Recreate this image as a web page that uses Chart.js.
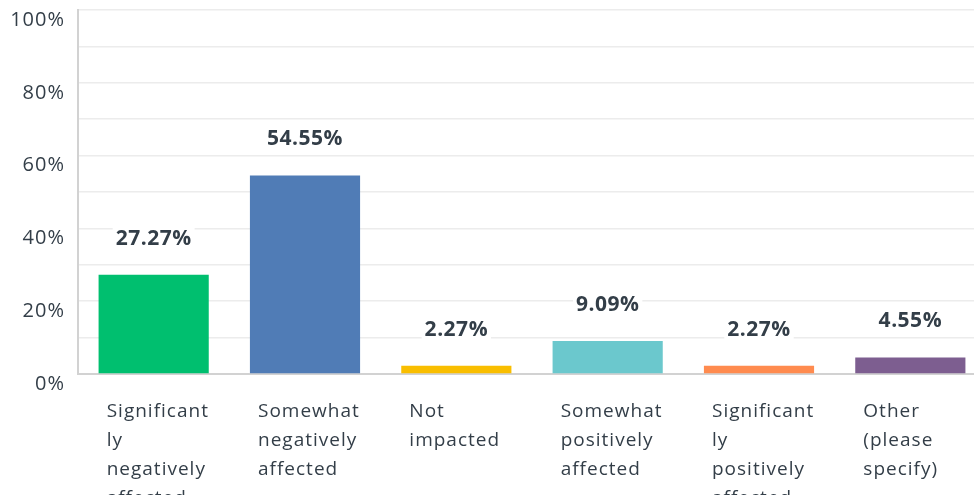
<!DOCTYPE html>
<html>
<head>
<meta charset="utf-8">
<script src="https://cdn.jsdelivr.net/npm/chart.js@4/dist/chart.umd.min.js"></script>
<style>
  html, body { margin: 0; padding: 0; background: #fff; overflow: hidden; }
  #chart { position: absolute; left: 0; top: 0; }
</style>
</head>
<body>
<canvas id="chart" width="986" height="495"></canvas>
<script>
const categories = [
  ['Significant', 'ly', 'negatively', 'affected'],
  ['Somewhat', 'negatively', 'affected'],
  ['Not', 'impacted'],
  ['Somewhat', 'positively', 'affected'],
  ['Significant', 'ly', 'positively', 'affected'],
  ['Other', '(please', 'specify)']
];
const percents = [27.27, 54.55, 2.27, 9.09, 2.27, 4.55];
const barColors = ['#00BF6F', '#507CB6', '#F9BE00', '#6BC8CD', '#FF8B4F', '#7D5E90'];
const yTicks = [0, 20, 40, 60, 80, 100];

const TEXT = '#333e48';
const FONT = "'Open Sans', sans-serif";

// the original font is wide and loosely spaced
const spacing = {
  id: 'spacing',
  beforeDraw(chart) { chart.ctx.letterSpacing = '1px'; }
};

// value labels above each bar, on a white box like the original
const valueLabels = {
  id: 'valueLabels',
  afterDatasetsDraw(chart) {
    const ctx = chart.ctx;
    const meta = chart.getDatasetMeta(0);
    ctx.save();
    ctx.font = 'bold 21px ' + FONT;
    ctx.letterSpacing = '0.5px';
    ctx.textAlign = 'center';
    ctx.textBaseline = 'middle';
    meta.data.forEach((bar, i) => {
      const txt = percents[i].toFixed(2) + '%';
      const y = bar.y - 36;
      const w = ctx.measureText(txt).width;
      ctx.fillStyle = '#fff';
      ctx.fillRect(bar.x - w / 2 - 3, y - 12, w + 6, 24);
      ctx.fillStyle = TEXT;
      ctx.fillText(txt, bar.x, y);
    });
    ctx.restore();
  }
};

new Chart(document.getElementById('chart'), {
  type: 'bar',
  data: {
    labels: categories,
    datasets: [{
      data: percents,
      backgroundColor: barColors,
      categoryPercentage: 1,
      barPercentage: 0.728
    }]
  },
  options: {
    animation: false,
    responsive: false,
    layout: { padding: { top: 10, left: 0, right: 0, bottom: 0 } },
    plugins: {
      legend: { display: false },
      tooltip: { enabled: false }
    },
    scales: {
      x: {
        grid: { display: false, drawTicks: false },
        border: { display: true, color: '#d2d2d2', width: 2 },
        ticks: {
          autoSkip: false,
          maxRotation: 0,
          minRotation: 0,
          align: 'start',
          labelOffset: -47,
          padding: 23,
          color: TEXT,
          font: { family: FONT, size: 19, lineHeight: '29px' }
        },
        afterFit(scale) {
          scale.height = 121;
          scale.paddingLeft = 0;
          scale.paddingRight = 0;
        }
      },
      y: {
        min: 0,
        max: 100,
        grid: { color: '#ececec', lineWidth: 1.5, drawTicks: false },
        border: { display: true, color: '#d2d2d2', width: 2 },
        ticks: {
          stepSize: 10,
          padding: 13,
          labelOffset: 10,
          color: TEXT,
          font: { family: FONT, size: 20 },
          callback: v => yTicks.includes(v) ? v + '%' : ''
        },
        afterFit(scale) {
          scale.width = 78;
          scale.paddingTop = 0;
          scale.paddingBottom = 0;
        }
      }
    }
  },
  plugins: [spacing, valueLabels]
});
</script>
</body>
</html>
